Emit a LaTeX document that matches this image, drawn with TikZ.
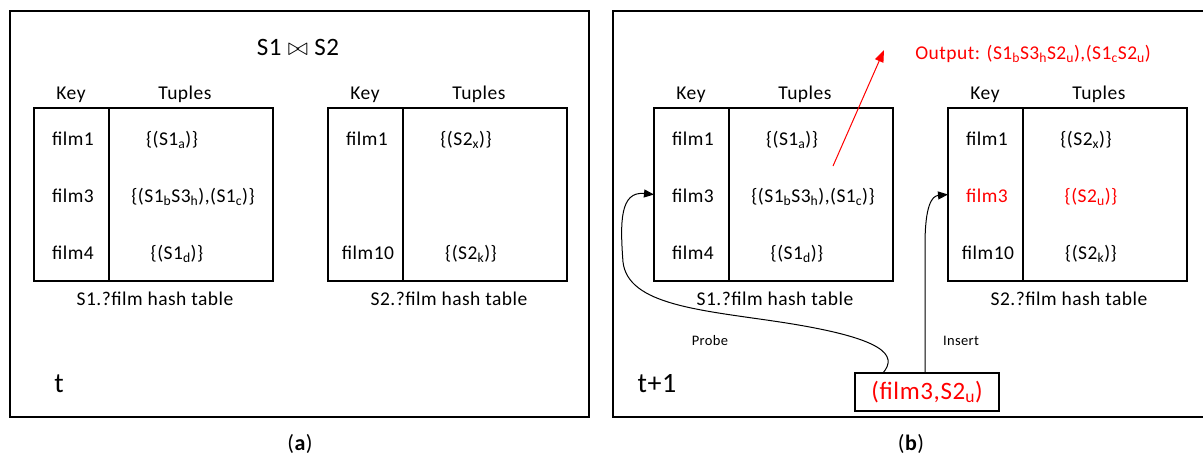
\documentclass[tikz,border=0pt]{standalone}
\usepackage{fontspec}
\setmainfont{Carlito}[LetterSpace=2.5]
\usetikzlibrary{arrows.meta}
\newcommand\sbs[1]{\textsubscript{#1}}
\definecolor{outred}{RGB}{255,0,0}
\begin{document}
\begin{tikzpicture}[x=1pt,y=-1pt,
  every node/.style={inner sep=0pt, outer sep=0pt},
  txt/.style={font=\fontsize{19.5}{23}\selectfont, anchor=base},
  small/.style={font=\fontsize{14.5}{17}\selectfont, anchor=base},
  big/.style={font=\fontsize{28}{33}\selectfont, anchor=base},
  panel/.style={draw, line width=1.4pt, anchor=north west, minimum width=579pt, minimum height=406pt},
  keycell/.style={draw, line width=1.4pt, anchor=north west, minimum width=75pt, minimum height=173pt},
  tupcell/.style={draw, line width=1.4pt, anchor=north west, minimum width=164pt, minimum height=173pt},
  hl/.style={text=outred},
  conn/.style={line width=1pt, -{Triangle[length=10pt,width=8pt]}},
]
\useasboundingbox (0,0) rectangle (1203,459);

% panels
\node[panel] (pa) at (10,11) {};
\node[panel, minimum width=600pt] (pb) at (613,11) {};

% ---------- panel (a) ----------
\node[txt, font=\fontsize{25}{29}\selectfont] (title) at (298,55) {S1 $\bowtie$ S2};

\node[keycell] (s1akey) at (34,108) {};
\node[tupcell] (s1atup) at (109,108) {};
\node[txt] (s1akeyh) at (71,99) {Key};
\node[txt] (s1atuph) at (185,99) {Tuples};
\node[txt] (s1ak1) at (73,145) {film1};
\node[txt] (s1ak2) at (73,202) {film3};
\node[txt] (s1ak3) at (73,259) {film4};
\node[txt] (s1at1) at (172,145) {\{(S1\sbs{a})\}};
\node[txt] (s1at2) at (193,202) {\{(S1\sbs{b}S3\sbs{h}),(S1\sbs{c})\}};
\node[txt] (s1at3) at (177,259) {\{(S1\sbs{d})\}};
\node[txt] (s1acap) at (155,305) {S1.?film hash table};

\node[keycell] (s2akey) at (328,108) {};
\node[tupcell] (s2atup) at (403,108) {};
\node[txt] (s2akeyh) at (365,99) {Key};
\node[txt] (s2atuph) at (479,99) {Tuples};
\node[txt] (s2ak1) at (367,145) {film1};
\node[txt] (s2ak3) at (368,259) {film10};
\node[txt] (s2at1) at (466,145) {\{(S2\sbs{x})\}};
\node[txt] (s2at3) at (471,259) {\{(S2\sbs{k})\}};
\node[txt] (s2acap) at (449,305) {S2.?film hash table};

\node[big] (ta) at (59,392) {t};
\node[txt, font=\fontsize{22}{26}\selectfont] (capa) at (300,450) {(\textbf{a})};

% ---------- panel (b) ----------
\node[keycell] (s1bkey) at (654,108) {};
\node[tupcell] (s1btup) at (729,108) {};
\node[txt] (s1bkeyh) at (691,99) {Key};
\node[txt] (s1btuph) at (805,99) {Tuples};
\node[txt] (s1bk1) at (693,145) {film1};
\node[txt] (s1bk2) at (693,202) {film3};
\node[txt] (s1bk3) at (693,259) {film4};
\node[txt] (s1bt1) at (792,145) {\{(S1\sbs{a})\}};
\node[txt] (s1bt2) at (813,202) {\{(S1\sbs{b}S3\sbs{h}),(S1\sbs{c})\}};
\node[txt] (s1bt3) at (797,259) {\{(S1\sbs{d})\}};
\node[txt] (s1bcap) at (775,305) {S1.?film hash table};

\node[keycell] (s2bkey) at (948,108) {};
\node[tupcell] (s2btup) at (1023,108) {};
\node[txt] (s2bkeyh) at (985,99) {Key};
\node[txt] (s2btuph) at (1099,99) {Tuples};
\node[txt] (s2bk1) at (987,145) {film1};
\node[txt, hl] (s2bk2) at (987,202) {film3};
\node[txt] (s2bk3) at (988,259) {film10};
\node[txt] (s2bt1) at (1086,145) {\{(S2\sbs{x})\}};
\node[txt, hl] (s2bt2) at (1091,202) {\{(S2\sbs{u})\}};
\node[txt] (s2bt3) at (1091,259) {\{(S2\sbs{k})\}};
\node[txt] (s2bcap) at (1069,305) {S2.?film hash table};

\node[txt, hl] (out) at (1033,59) {Output: (S1\sbs{b}S3\sbs{h}S2\sbs{u}),(S1\sbs{c}S2\sbs{u})};

\node[draw, line width=1.4pt, minimum width=144pt, minimum height=38pt, text=outred,
      font=\fontsize{25}{29}\selectfont] (newt) at (927,392) {(film3,S2\sbs{u})};

\node[big] (tb) at (657,392) {t+1};
\node[txt, font=\fontsize{22}{26}\selectfont] (capb) at (911,450) {(\textbf{b})};

\node[small] (probe) at (710,345) {Probe};
\node[small] (insert) at (961,345) {Insert};

% connectors
\coordinate (pst) at ([xshift=28pt]newt.north west);
\coordinate (ist) at ([xshift=70pt]newt.north west);
\coordinate (ostart) at (833,166);
\coordinate (oend) at (884,50);

\draw[conn] (pst) .. controls (898,355) and (885,338) .. (780,322)
  .. controls (700,310) and (628,305) .. (623,262)
  .. controls (620,222) and (620,191) .. (s1bkey.west);
\draw[conn] (ist) -- (925,245) .. controls (925,205) and (932,196) .. (s2bkey.west);
\draw[line width=1pt, draw=outred, -{Triangle[length=12pt,width=9pt]}] (ostart) -- (oend);
\end{tikzpicture}
\end{document}
